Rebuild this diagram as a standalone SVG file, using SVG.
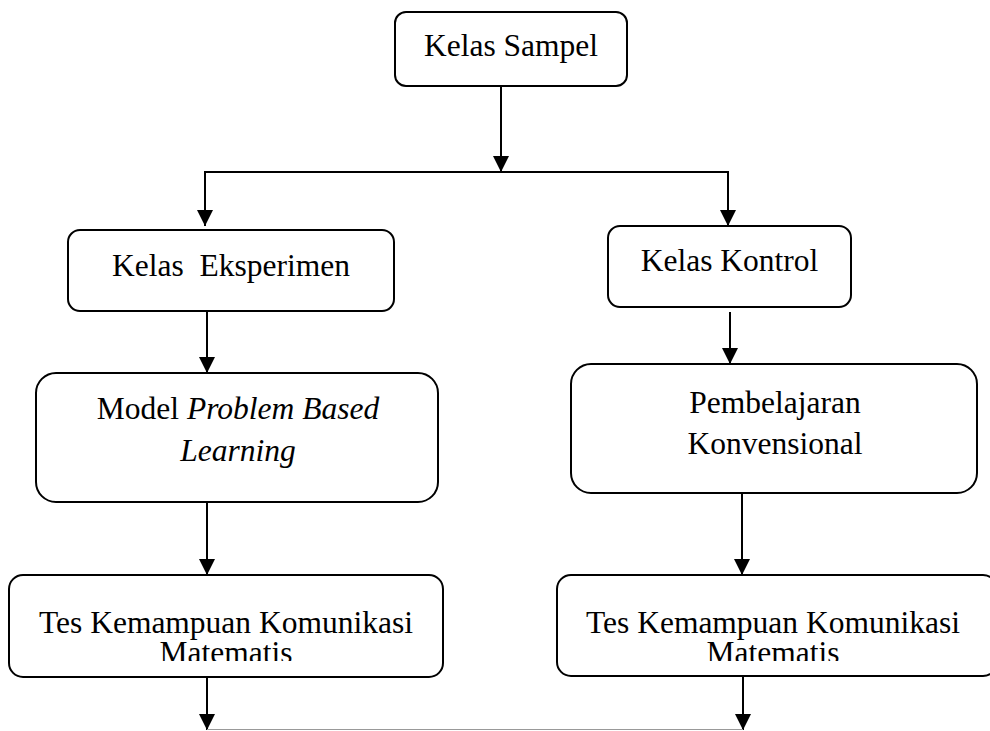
<svg xmlns="http://www.w3.org/2000/svg" width="990" height="731" viewBox="0 0 990 731">
<style>
.box{fill:#fff;stroke:#000;stroke-width:2}
.t{font-family:"Liberation Serif","Times New Roman",serif;font-size:31.5px;fill:#000;text-anchor:middle}
.i{font-style:italic}
.c{stroke:#000;stroke-width:2;fill:none}
</style>
<defs>
<marker id="ah" markerUnits="userSpaceOnUse" markerWidth="16" markerHeight="17" refX="16" refY="8" orient="auto" viewBox="0 0 16 16">
<path d="M0,0 L16,8 L0,16 Z" fill="#000"/>
</marker>
<clipPath id="clipL"><rect x="0" y="560" width="460" height="101"/></clipPath>
<clipPath id="clipR"><rect x="540" y="560" width="450" height="101"/></clipPath>
</defs>
<g id="connectors">
<line class="c" x1="501" y1="86" x2="501" y2="172" marker-end="url(#ah)"/>
<polyline class="c" points="205,172 728,172 728,226" marker-end="url(#ah)"/>
<line class="c" x1="205" y1="171" x2="205" y2="226" marker-end="url(#ah)"/>
<line class="c" x1="207" y1="311" x2="207" y2="373" marker-end="url(#ah)"/>
<line class="c" x1="730" y1="312" x2="730" y2="364" marker-end="url(#ah)"/>
<line class="c" x1="207" y1="502" x2="207" y2="575" marker-end="url(#ah)"/>
<line class="c" x1="742" y1="487" x2="742" y2="575" marker-end="url(#ah)"/>
<line class="c" x1="207" y1="677" x2="207" y2="730" marker-end="url(#ah)"/>
<line class="c" x1="743" y1="677" x2="743" y2="730" marker-end="url(#ah)"/>
<line x1="207" y1="729.5" x2="743" y2="729.5" stroke="#999" stroke-width="1"/>
</g>
<g id="kelas-sampel">
<rect class="box" x="395" y="12" width="232" height="74" rx="11"/>
<text class="t" x="511" y="56">Kelas Sampel</text>
</g>
<g id="kelas-eksperimen">
<rect class="box" x="68" y="230" width="326" height="81" rx="12"/>
<text class="t" x="231" y="276" xml:space="preserve">Kelas &#160;Eksperimen</text>
</g>
<g id="kelas-kontrol">
<rect class="box" x="608" y="226" width="243" height="81" rx="12"/>
<text class="t" x="729.5" y="271">Kelas Kontrol</text>
</g>
<g id="model-pbl">
<rect class="box" x="36" y="373" width="402" height="129" rx="20"/>
<text class="t" x="238" y="419">Model <tspan class="i">Problem Based</tspan></text>
<text class="t i" x="238" y="461">Learning</text>
</g>
<g id="pembelajaran-konvensional">
<rect class="box" x="571" y="364" width="406" height="129" rx="20"/>
<text class="t" x="775" y="413">Pembelajaran</text>
<text class="t" x="775" y="454">Konvensional</text>
</g>
<g id="tes-kiri">
<rect class="box" x="9" y="575" width="434" height="102" rx="14"/>
<g clip-path="url(#clipL)">
<text class="t" x="226" y="633">Tes Kemampuan Komunikasi</text>
<text class="t" x="226" y="663">Matematis</text>
</g>
</g>
<g id="tes-kanan">
<rect class="box" x="557" y="575" width="440" height="101" rx="14"/>
<g clip-path="url(#clipR)">
<text class="t" x="773" y="633">Tes Kemampuan Komunikasi</text>
<text class="t" x="773" y="663">Matematis</text>
</g>
</g>
</svg>
